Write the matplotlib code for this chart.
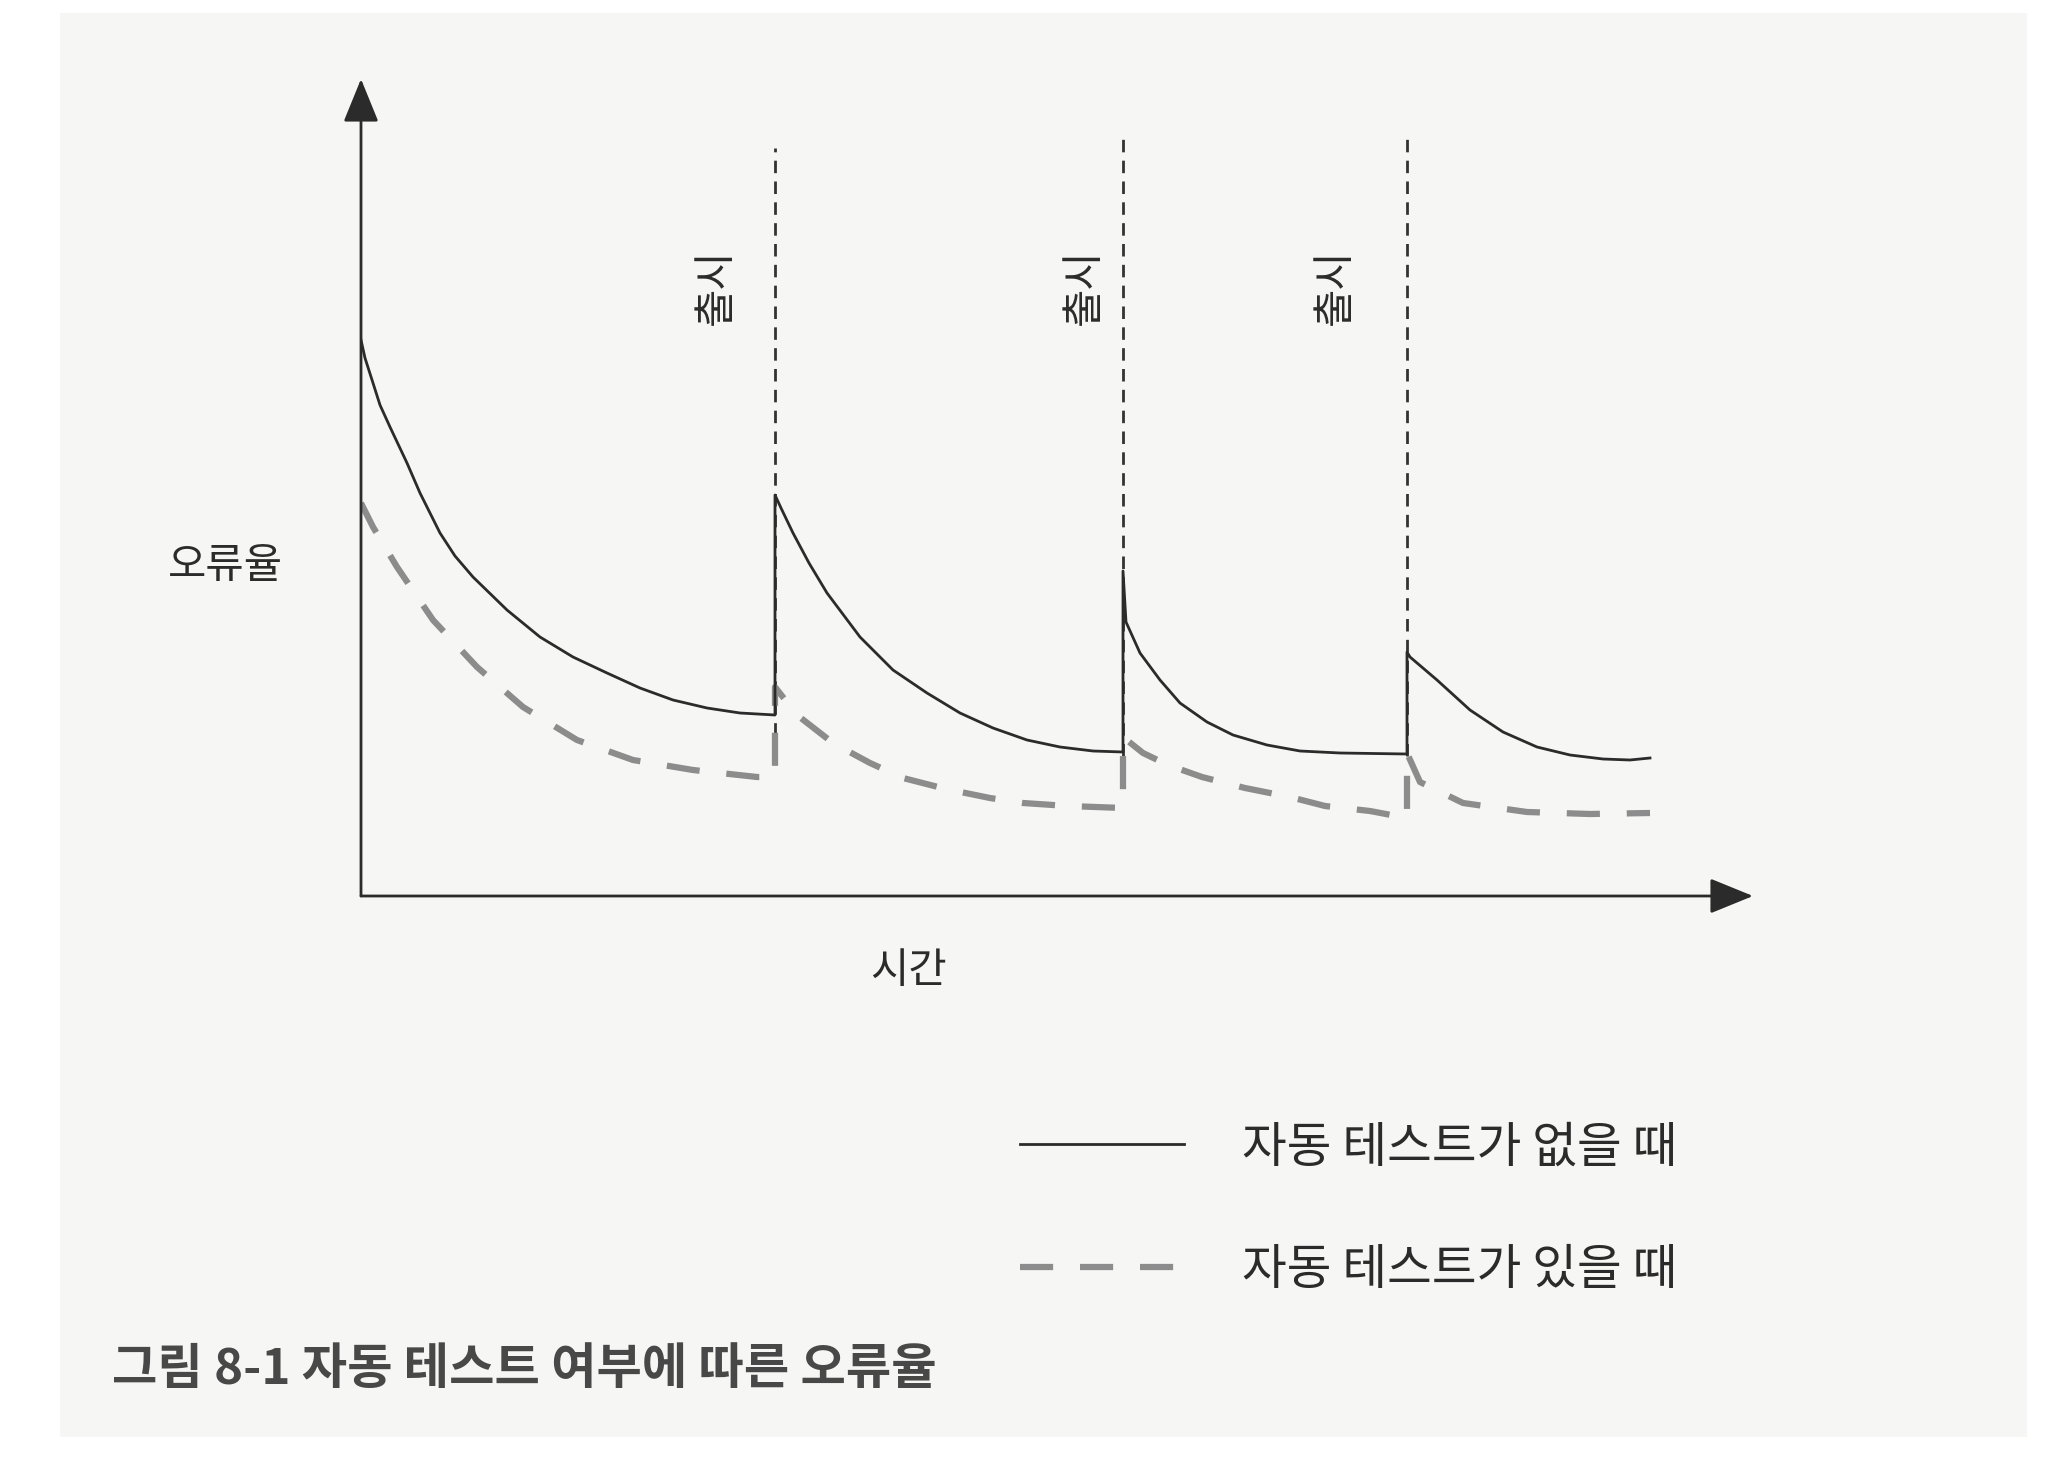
import matplotlib
matplotlib.use("Agg")
import matplotlib.pyplot as plt
from matplotlib.patches import Rectangle

plt.rcParams['font.family'] = ['Noto Sans CJK KR', 'DejaVu Sans']

# 시간 축 / 오류율 축 (단위: 원본 그림 기준 임의 단위)
# 자동 테스트가 없을 때 (실선)
t_no_test = [0, 4, 12, 19, 29, 46, 59, 79, 94, 112, 146, 179, 212, 246, 279, 312, 346, 379, 414,
             414, 420, 432, 448, 466, 499, 532, 566, 599, 632, 666, 699, 732, 762,
             762, 765, 779, 799, 819, 846, 872, 906, 939, 979, 1046,
             1046, 1049, 1076, 1109, 1142, 1176, 1209, 1242, 1269, 1289]
rate_no_test = [556, 538, 513, 491, 469, 433, 403, 363, 340, 319, 286, 259, 239, 223, 208, 196, 188, 183, 181,
                401, 388, 363, 333, 303, 259, 226, 203, 183, 168, 156, 149, 145, 144,
                325, 274, 243, 216, 193, 174, 161, 151, 145, 143, 142,
                244, 239, 216, 186, 164, 149, 141, 137, 136, 138]

# 자동 테스트가 있을 때 (점선)
t_with_test = [0, 12, 36, 72, 116, 162, 216, 272, 332, 396, 414,
               414, 436, 472, 509, 542, 585, 629, 662, 707, 762,
               762, 782, 807, 841, 884, 929, 964, 1009, 1046,
               1046, 1059, 1102, 1166, 1229, 1289]
rate_with_test = [393, 369, 329, 276, 229, 189, 156, 136, 126, 119, 119,
                  209, 181, 153, 133, 118, 107, 98, 93, 90, 88,
                  159, 143, 131, 119, 108, 99, 90, 85, 78,
                  143, 114, 93, 84, 82, 83]

# 출시 시점
release_t = [414, 762, 1046]
release_top = [748, 757, 760]
release_label_t = [355, 723, 974]
release_label_rate = 609

labels = ['자동 테스트가 없을 때', '자동 테스트가 있을 때']
caption = '그림 8-1 자동 테스트 여부에 따른 오류율'

x_max = 1392
y_max = 817

fig = plt.figure(figsize=(20.72, 14.76), dpi=100)
fig.patch.set_facecolor('white')
# 스캔된 종이 느낌의 옅은 배경
bg = Rectangle((60 / 2072, 1 - 1437 / 1476), (2027 - 60) / 2072, (1437 - 13) / 1476,
               transform=fig.transFigure, facecolor='#f6f6f4', edgecolor='none', zorder=-10)
fig.add_artist(bg)

ax = fig.add_axes([361 / 2072, (1476 - 896) / 1476, x_max / 2072, y_max / 1476])
ax.set_facecolor('none')
ax.set_xlim(0, x_max)
ax.set_ylim(0, y_max)
ax.axis('off')

dark = '#2b2b2b'

# 출시 점선
for t, top in zip(release_t, release_top):
    ax.plot([t, t], [140, top], color='#333333', lw=2.0, dashes=(4.5, 3), zorder=1)

ax.plot(t_with_test, rate_with_test, color='#8c8c8c', lw=4.5, dashes=(5.3, 4.3),
        label=labels[1], zorder=2)
ax.plot(t_no_test, rate_no_test, color=dark, lw=2.0, label=labels[0], zorder=3)

# 축 화살표
arrow = dict(arrowstyle='-|>,head_length=1.35,head_width=0.55', color=dark, lw=2.0,
             mutation_scale=20, shrinkA=0, shrinkB=0)
ax.annotate('', xy=(x_max, 0), xytext=(0, 0), arrowprops=arrow, annotation_clip=False)
ax.annotate('', xy=(0, y_max), xytext=(0, 0), arrowprops=arrow, annotation_clip=False)

ax.text(-136, 330, '오류율', fontsize=30, color=dark, ha='center', va='center')
ax.text(548, -75, '시간', fontsize=30, color=dark, ha='center', va='center')
for t in release_label_t:
    ax.text(t, release_label_rate, '출시', fontsize=30, color=dark, rotation=90,
            ha='center', va='center')

handles, lbls = ax.get_legend_handles_labels()
leg = ax.legend(handles[::-1], lbls[::-1], loc='upper left',
                bbox_to_anchor=(1020 / 2072, 1 - 1123 / 1476), bbox_transform=fig.transFigure,
                frameon=False, fontsize=35, handlelength=3.38, handletextpad=1.19,
                labelspacing=1.5, borderpad=0, borderaxespad=0)
for txt in leg.get_texts():
    txt.set_color(dark)

fig.text(112 / 2072, 1 - 1369 / 1476, caption, fontsize=35.5, fontweight='bold',
         color='#484848', ha='left', va='center')

plt.savefig('out.png', dpi=100)
plt.close()
